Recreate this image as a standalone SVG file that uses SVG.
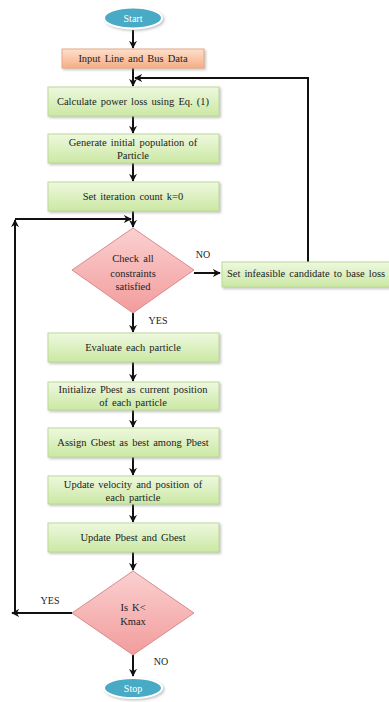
<svg xmlns="http://www.w3.org/2000/svg" width="389" height="702" viewBox="0 0 389 702">
<style>
text{font-family:"Liberation Serif","Times New Roman",serif;font-size:10.5px;fill:#222;text-anchor:middle;word-spacing:1.5px}
.term text{fill:#fff;font-size:10px}
.box{fill:url(#gGreen);stroke:#bcd99a;stroke-width:1;filter:url(#sh)}
.inp{fill:url(#gOrange);stroke:#e8a98a;stroke-width:1;filter:url(#sh)}
.dia{fill:url(#gPink);stroke:#d88c8c;stroke-width:1}
.ell{fill:#4aaac6;stroke:#fff;stroke-width:2;filter:url(#sh)}
.ln{fill:none;stroke:#111;stroke-width:2}
.lbl{font-size:10px}
</style>
<defs>
<linearGradient id="gGreen" x1="0" y1="0" x2="0" y2="1"><stop offset="0" stop-color="#eef8df"/><stop offset="1" stop-color="#cbe8a3"/></linearGradient>
<linearGradient id="gOrange" x1="0" y1="0" x2="0" y2="1"><stop offset="0" stop-color="#fde0cc"/><stop offset="1" stop-color="#f6ad85"/></linearGradient>
<linearGradient id="gPink" x1="0" y1="0" x2="0" y2="1"><stop offset="0" stop-color="#fbd0d0"/><stop offset="1" stop-color="#f29c9c"/></linearGradient>
<filter id="sh" x="-10%" y="-20%" width="130%" height="160%"><feDropShadow dx="1.5" dy="1.5" stdDeviation="1" flood-color="#888" flood-opacity="0.5"/></filter>
<marker id="ah" viewBox="0 0 10 10" refX="9" refY="5" markerWidth="4" markerHeight="4" orient="auto-start-reverse" markerUnits="strokeWidth"><path d="M0,0 L10,5 L0,10 L3,5 z" fill="#111"/></marker>
</defs>
<g id="connectors">
<line class="ln" x1="133" y1="30" x2="133" y2="48" marker-end="url(#ah)"/>
<line class="ln" x1="133" y1="68" x2="133" y2="86" marker-end="url(#ah)"/>
<polyline class="ln" points="308,262 308,78 135,78" marker-end="url(#ah)"/>
<line class="ln" x1="133" y1="116" x2="133" y2="133" marker-end="url(#ah)"/>
<line class="ln" x1="133" y1="163" x2="133" y2="181" marker-end="url(#ah)"/>
<line class="ln" x1="133" y1="211" x2="133" y2="227" marker-end="url(#ah)"/>
<polyline class="ln" points="15,613 15,220" marker-end="url(#ah)"/>
<polyline class="ln" points="15,219 131,219" marker-end="url(#ah)"/>
<line class="ln" x1="194" y1="273" x2="220" y2="273" marker-end="url(#ah)"/>
<line class="ln" x1="133" y1="313" x2="133" y2="332" marker-end="url(#ah)"/>
<line class="ln" x1="133" y1="362" x2="133" y2="381" marker-end="url(#ah)"/>
<line class="ln" x1="133" y1="410" x2="133" y2="427" marker-end="url(#ah)"/>
<line class="ln" x1="133" y1="457" x2="133" y2="475" marker-end="url(#ah)"/>
<line class="ln" x1="133" y1="504" x2="133" y2="522" marker-end="url(#ah)"/>
<line class="ln" x1="133" y1="552" x2="133" y2="570" marker-end="url(#ah)"/>
<line class="ln" x1="72" y1="613" x2="12" y2="613" marker-end="url(#ah)"/>
<line class="ln" x1="133" y1="655" x2="133" y2="676" marker-end="url(#ah)"/>
<text class="lbl" x="203" y="258">NO</text>
<text class="lbl" x="158" y="324">YES</text>
<text class="lbl" x="50" y="604">YES</text>
<text class="lbl" x="161" y="665">NO</text>
</g>
<g id="start" class="term"><ellipse class="ell" cx="133" cy="18" rx="29" ry="10.5"/><text x="133" y="22">Start</text></g>
<g id="input"><rect class="inp" x="62" y="49" width="142" height="19"/><text x="133" y="62">Input Line and Bus Data</text></g>
<g id="calc"><rect class="box" x="48" y="87" width="171" height="29"/><text x="133" y="105">Calculate power loss using Eq. (1)</text></g>
<g id="gen"><rect class="box" x="48" y="134" width="171" height="29"/><text x="133" y="146">Generate initial population of</text><text x="133" y="159">Particle</text></g>
<g id="setk"><rect class="box" x="48" y="182" width="171" height="29"/><text x="133" y="200">Set iteration count k=0</text></g>
<g id="check"><polygon class="dia" points="133,228 194,270 133,313 72,270"/><text x="133" y="262">Check all</text><text x="133" y="277">constraints</text><text x="133" y="290">satisfied</text></g>
<g id="infeasible"><rect class="box" x="222" y="262" width="170" height="25"/><text x="306" y="277">Set infeasible candidate to base loss</text></g>
<g id="evaluate"><rect class="box" x="48" y="333" width="171" height="29"/><text x="133" y="351">Evaluate each particle</text></g>
<g id="initpbest"><rect class="box" x="48" y="382" width="171" height="28"/><text x="133" y="393">Initialize Pbest as current position</text><text x="133" y="406">of each particle</text></g>
<g id="gbest"><rect class="box" x="48" y="428" width="171" height="29"/><text x="133" y="446">Assign Gbest as best among Pbest</text></g>
<g id="velocity"><rect class="box" x="48" y="476" width="171" height="28"/><text x="133" y="488">Update velocity and position of</text><text x="133" y="501">each particle</text></g>
<g id="updbest"><rect class="box" x="48" y="523" width="171" height="29"/><text x="133" y="541">Update Pbest and Gbest</text></g>
<g id="iskmax"><polygon class="dia" points="133,571 194,613 133,655 72,613"/><text x="133" y="611">Is K&lt;</text><text x="133" y="625">Kmax</text></g>
<g id="stop" class="term"><ellipse class="ell" cx="133" cy="688" rx="29" ry="10"/><text x="133" y="692">Stop</text></g>
</svg>
